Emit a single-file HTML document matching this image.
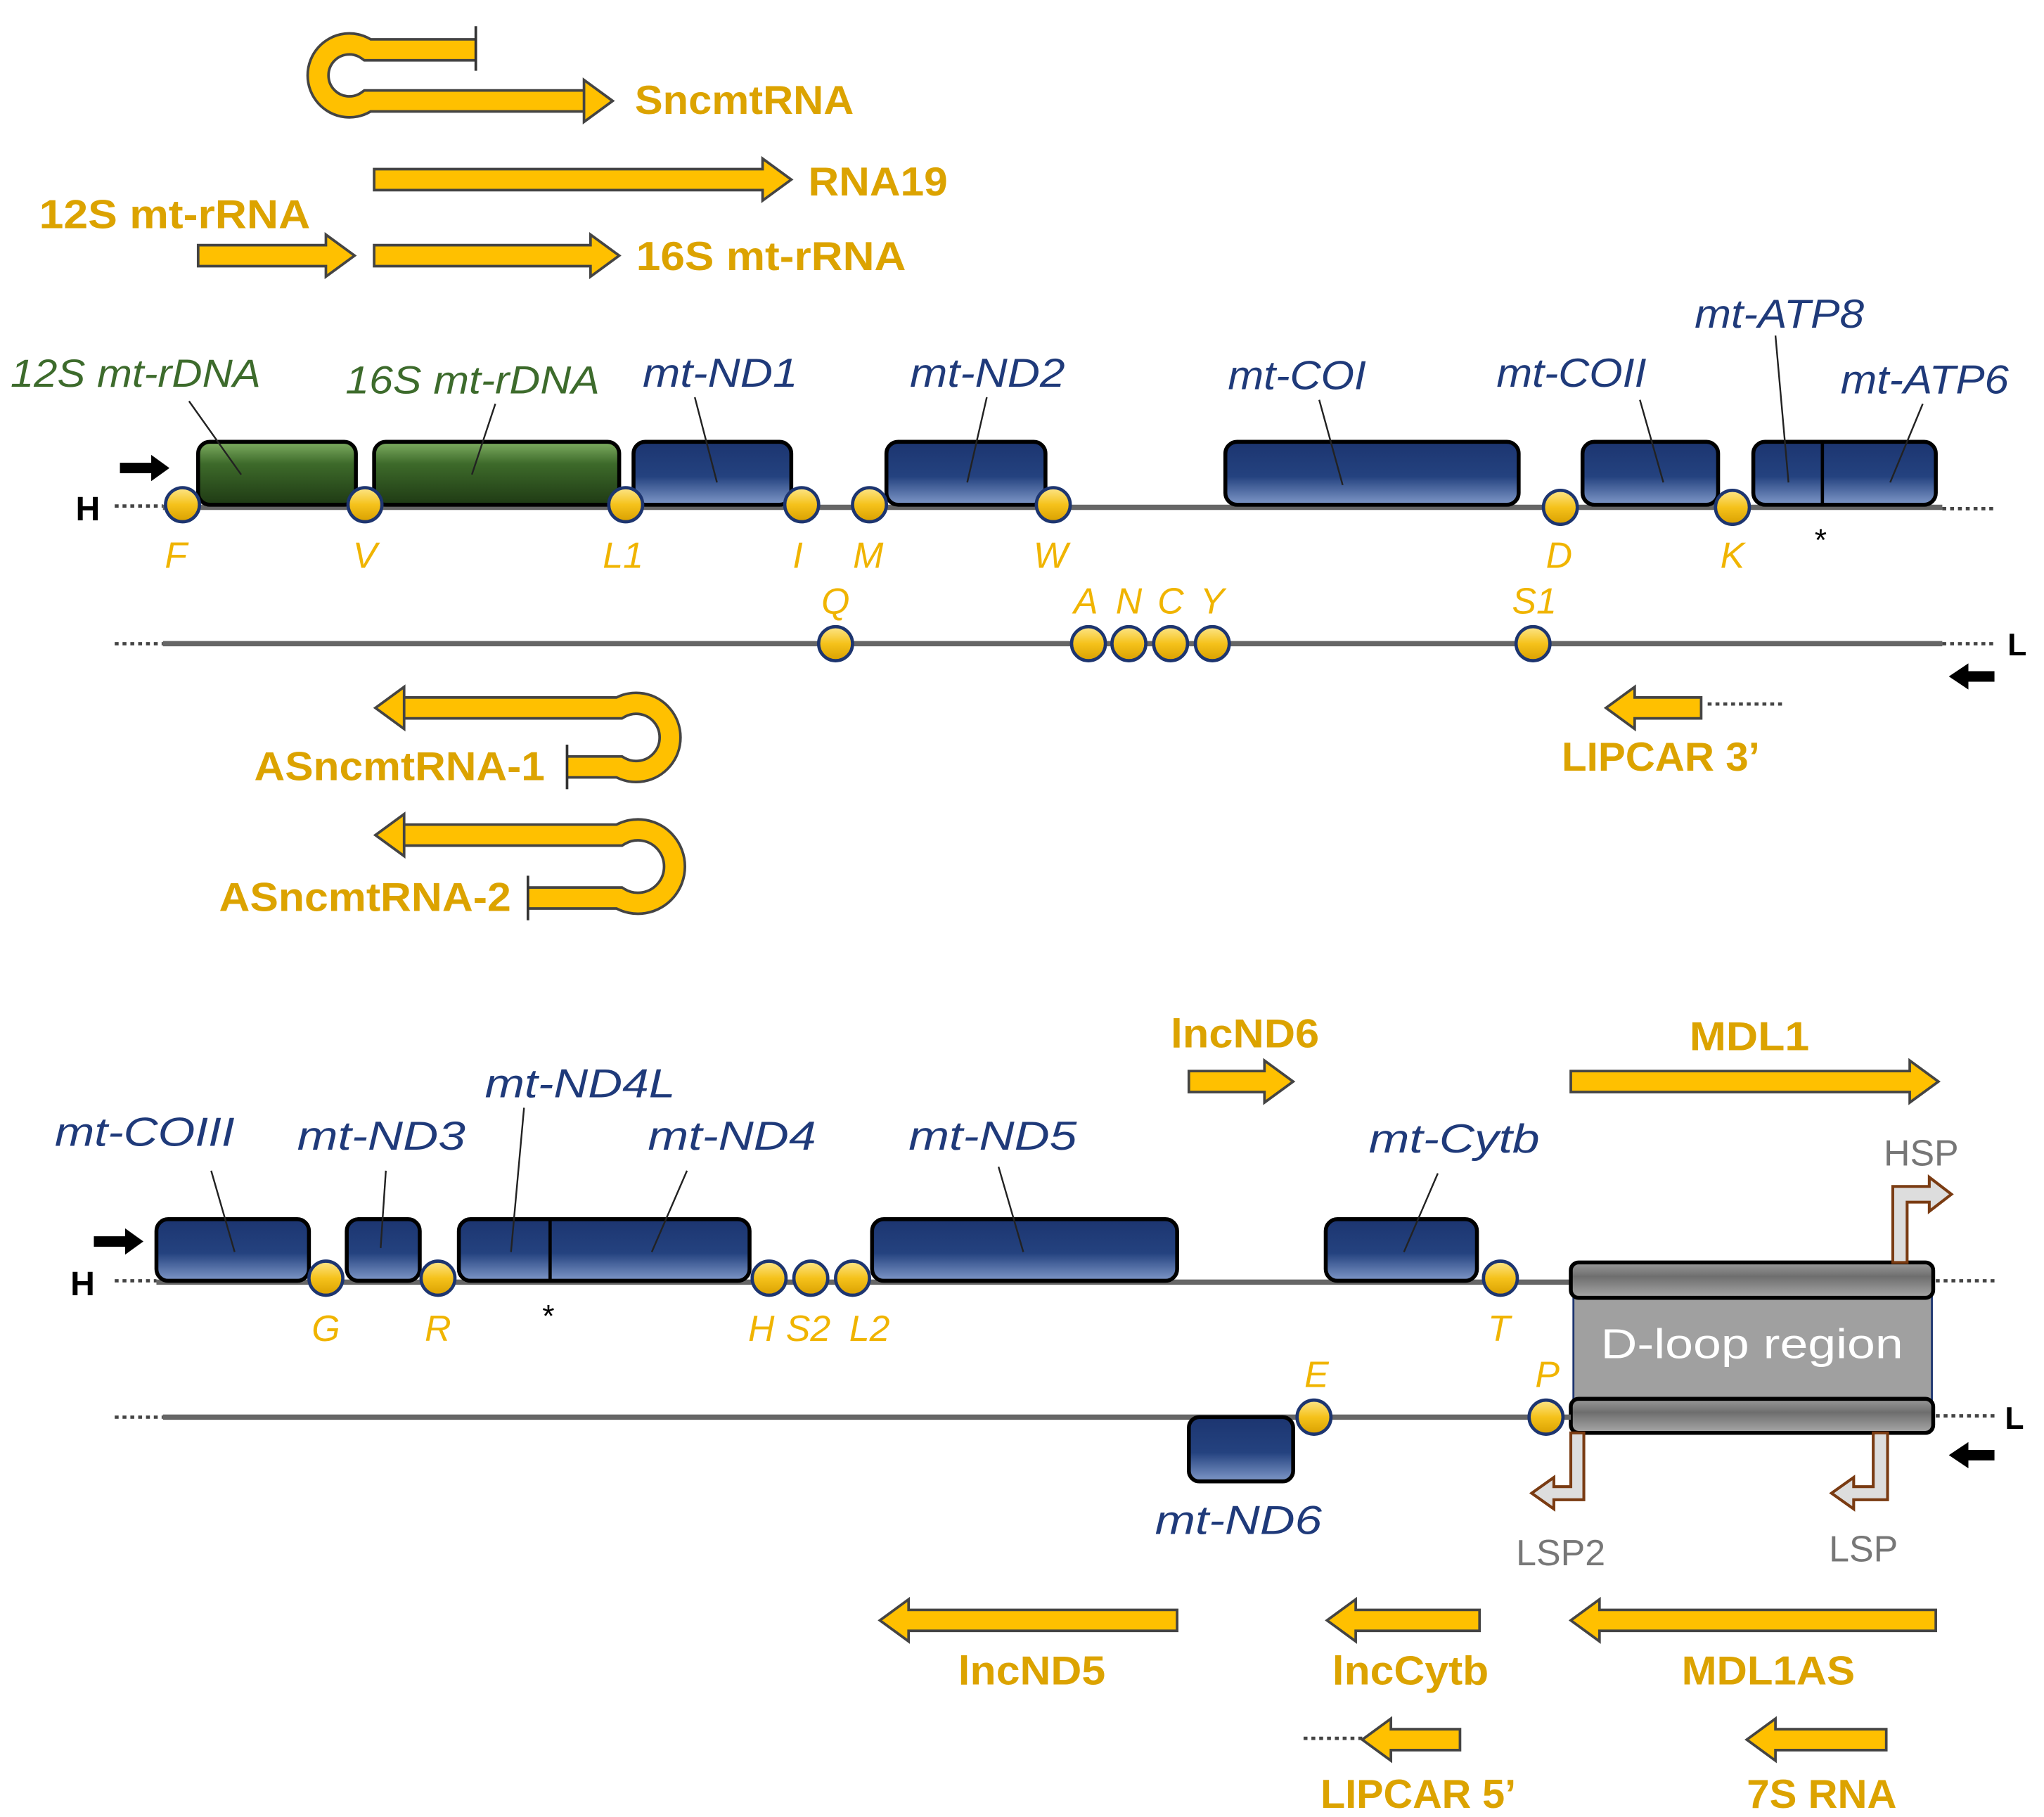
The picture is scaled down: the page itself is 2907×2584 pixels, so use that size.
<!DOCTYPE html>
<html><head><meta charset="utf-8">
<style>
html,body{margin:0;padding:0;background:#fff;}
svg{display:block;}
.y{font-family:"Liberation Sans",sans-serif;font-weight:bold;fill:#DCA300;font-size:31px;}
.g{font-family:"Liberation Sans",sans-serif;font-style:italic;fill:#1F3A7A;font-size:31px;}
.gg{font-family:"Liberation Sans",sans-serif;font-style:italic;fill:#3D6B2C;font-size:30px;}
.t{font-family:"Liberation Sans",sans-serif;font-style:italic;fill:#F0B400;font-size:28px;text-anchor:middle;}
.p{font-family:"Liberation Sans",sans-serif;fill:#777;font-size:28px;}
.ar{fill:#FFC000;stroke:#444;stroke-width:2;stroke-linejoin:miter;}
.bl{fill:url(#blue);stroke:#000;stroke-width:3;}
.gr{fill:url(#green);stroke:#000;stroke-width:3;}
.c{fill:url(#yel);stroke:#1D3570;stroke-width:2.5;}
.ln{stroke:#666;stroke-width:4;}
.dot{stroke:#444;stroke-width:2.5;stroke-dasharray:3 3;}
.lead{stroke:#222;stroke-width:1.3;}
.bent{fill:#ddd;stroke:#7A3B12;stroke-width:2.2;}
</style></head><body>
<svg width="2907" height="2584" viewBox="0 0 1568 1386" preserveAspectRatio="none" xmlns="http://www.w3.org/2000/svg">
<defs>
<linearGradient id="blue" x1="0" y1="0" x2="0" y2="1"><stop offset="0" stop-color="#1C3570"/><stop offset="0.55" stop-color="#24427F"/><stop offset="1" stop-color="#7F98C8"/></linearGradient>
<linearGradient id="green" x1="0" y1="0" x2="0" y2="1"><stop offset="0" stop-color="#7FAE62"/><stop offset="0.35" stop-color="#3D6A2A"/><stop offset="1" stop-color="#1F3A14"/></linearGradient>
<linearGradient id="yel" x1="0" y1="0" x2="0" y2="1"><stop offset="0" stop-color="#FDE68A"/><stop offset="0.5" stop-color="#F5C21B"/><stop offset="1" stop-color="#D9A000"/></linearGradient>
<linearGradient id="gray" x1="0" y1="0" x2="0" y2="1"><stop offset="0" stop-color="#9a9a9a"/><stop offset="0.4" stop-color="#6e6e6e"/><stop offset="1" stop-color="#a8a8a8"/></linearGradient>
</defs>

<!-- TOP TRANSCRIPTS -->
<path d="M365 38 H282 A24 24 0 1 0 282 77 H450" fill="none" stroke="#444" stroke-width="18"/>
<path d="M365 38 H282 A24 24 0 1 0 282 77 H450" fill="none" stroke="#FFC000" stroke-width="14"/>
<line x1="365" y1="20" x2="365" y2="54" stroke="#333" stroke-width="2"/>
<polygon class="ar" points="448,61 470,77 448,93"/>
<text class="y" x="487" y="87" textLength="168" lengthAdjust="spacingAndGlyphs">SncmtRNA</text>

<polygon class="ar" points="287,129 585,129 585,121 607,137 585,153 585,145 287,145"/>
<text class="y" x="620" y="149" textLength="107" lengthAdjust="spacingAndGlyphs">RNA19</text>
<text class="y" x="30" y="174" textLength="208" lengthAdjust="spacingAndGlyphs">12S mt-rRNA</text>
<polygon class="ar" points="152,187 250,187 250,179 272,195 250,211 250,203 152,203"/>
<polygon class="ar" points="287,187 453,187 453,179 475,195 453,211 453,203 287,203"/>
<text class="y" x="488" y="206" textLength="207" lengthAdjust="spacingAndGlyphs">16S mt-rRNA</text>

<!-- H strand top -->
<line class="dot" x1="88" y1="386" x2="125" y2="386"/>
<line class="ln" x1="125" y1="387" x2="1490" y2="387"/>
<line class="dot" x1="1490" y1="388" x2="1532" y2="388"/>
<text x="58" y="397" font-family="Liberation Sans" font-weight="bold" font-size="26">H</text>
<polygon points="92,353 116,353 116,347 130,357 116,367 116,361 92,361" fill="#000"/>

<rect class="gr" x="152" y="337" width="121" height="48" rx="9"/>
<rect class="gr" x="287" y="337" width="188" height="48" rx="9"/>
<rect class="bl" x="486" y="337" width="121" height="48" rx="9"/>
<rect class="bl" x="680" y="337" width="122" height="48" rx="9"/>
<rect class="bl" x="940" y="337" width="225" height="48" rx="9"/>
<rect class="bl" x="1214" y="337" width="104" height="48" rx="9"/>
<rect class="bl" x="1345" y="337" width="140" height="48" rx="9"/>
<line x1="1398" y1="337" x2="1398" y2="385" stroke="#000" stroke-width="2.5"/>

<line class="lead" x1="145" y1="306" x2="185" y2="362"/>
<line class="lead" x1="380" y1="308" x2="362" y2="362"/>
<line class="lead" x1="533" y1="303" x2="550" y2="368"/>
<line class="lead" x1="757" y1="303" x2="742" y2="368"/>
<line class="lead" x1="1012" y1="305" x2="1030" y2="370"/>
<line class="lead" x1="1258" y1="305" x2="1276" y2="368"/>
<line class="lead" x1="1362" y1="256" x2="1372" y2="368"/>
<line class="lead" x1="1475" y1="308" x2="1450" y2="368"/>

<text class="gg" x="8" y="295" textLength="192" lengthAdjust="spacingAndGlyphs">12S mt-rDNA</text>
<text class="gg" x="265" y="300" textLength="195" lengthAdjust="spacingAndGlyphs">16S mt-rDNA</text>
<text class="g" x="493" y="295" textLength="119" lengthAdjust="spacingAndGlyphs">mt-ND1</text>
<text class="g" x="698" y="295" textLength="119" lengthAdjust="spacingAndGlyphs">mt-ND2</text>
<text class="g" x="942" y="297" textLength="106" lengthAdjust="spacingAndGlyphs">mt-COI</text>
<text class="g" x="1148" y="295" textLength="115" lengthAdjust="spacingAndGlyphs">mt-COII</text>
<text class="g" x="1300" y="250" textLength="130" lengthAdjust="spacingAndGlyphs">mt-ATP8</text>
<text class="g" x="1412" y="300" textLength="129" lengthAdjust="spacingAndGlyphs">mt-ATP6</text>

<circle class="c" cx="140" cy="385" r="13"/>
<circle class="c" cx="280" cy="385" r="13"/>
<circle class="c" cx="480" cy="385" r="13"/>
<circle class="c" cx="615" cy="385" r="13"/>
<circle class="c" cx="667" cy="385" r="13"/>
<circle class="c" cx="808" cy="385" r="13"/>
<circle class="c" cx="1197" cy="387" r="13"/>
<circle class="c" cx="1329" cy="387" r="13"/>
<text class="t" x="135" y="433">F</text>
<text class="t" x="280" y="433">V</text>
<text class="t" x="478" y="433">L1</text>
<text class="t" x="612" y="433">I</text>
<text class="t" x="666" y="433">M</text>
<text class="t" x="806" y="433">W</text>
<text class="t" x="1196" y="433">D</text>
<text class="t" x="1329" y="433">K</text>
<text x="1392" y="420" font-family="Liberation Sans" font-size="24">*</text>

<!-- L strand top -->
<line class="dot" x1="88" y1="491" x2="125" y2="491"/>
<line class="ln" x1="125" y1="491" x2="1490" y2="491"/>
<line class="dot" x1="1490" y1="491" x2="1530" y2="491"/>
<text x="1540" y="500" font-family="Liberation Sans" font-weight="bold" font-size="24">L</text>
<polygon points="1530,512 1510,512 1510,506 1495,516 1510,526 1510,520 1530,520" fill="#000"/>
<circle class="c" cx="641" cy="491" r="13"/>
<circle class="c" cx="835" cy="491" r="13"/>
<circle class="c" cx="866" cy="491" r="13"/>
<circle class="c" cx="898" cy="491" r="13"/>
<circle class="c" cx="930" cy="491" r="13"/>
<circle class="c" cx="1176" cy="491" r="13"/>
<text class="t" x="641" y="468">Q</text>
<text class="t" x="833" y="468">A</text>
<text class="t" x="866" y="468">N</text>
<text class="t" x="898" y="468">C</text>
<text class="t" x="930" y="468">Y</text>
<text class="t" x="1177" y="468">S1</text>

<polygon class="ar" points="1305,532 1254,532 1254,524 1232,540 1254,556 1254,548 1305,548"/>
<line class="dot" x1="1310" y1="537" x2="1370" y2="537"/>
<text class="y" x="1198" y="588" textLength="152" lengthAdjust="spacingAndGlyphs">LIPCAR 3’</text>

<!-- AS hairpins -->
<path d="M308 540 H475 A26 26 0 1 1 475 585 H435" fill="none" stroke="#444" stroke-width="18"/>
<path d="M308 540 H475 A26 26 0 1 1 475 585 H435" fill="none" stroke="#FFC000" stroke-width="14"/>
<line x1="435" y1="568" x2="435" y2="602" stroke="#333" stroke-width="2"/>
<polygon class="ar" points="310,524 288,540 310,556"/>
<text class="y" x="195" y="595" textLength="223" lengthAdjust="spacingAndGlyphs">ASncmtRNA-1</text>

<path d="M308 637 H475 A28 28 0 1 1 475 685 H405" fill="none" stroke="#444" stroke-width="18"/>
<path d="M308 637 H475 A28 28 0 1 1 475 685 H405" fill="none" stroke="#FFC000" stroke-width="14"/>
<line x1="405" y1="668" x2="405" y2="702" stroke="#333" stroke-width="2"/>
<polygon class="ar" points="310,621 288,637 310,653"/>
<text class="y" x="168" y="695" textLength="224" lengthAdjust="spacingAndGlyphs">ASncmtRNA-2</text>

<!-- BOTTOM SECTION -->
<text class="y" x="898" y="799" textLength="114" lengthAdjust="spacingAndGlyphs">lncND6</text>
<polygon class="ar" points="912,817 970,817 970,809 992,825 970,841 970,833 912,833"/>
<text class="y" x="1296" y="801" textLength="92" lengthAdjust="spacingAndGlyphs">MDL1</text>
<polygon class="ar" points="1205,817 1465,817 1465,809 1487,825 1465,841 1465,833 1205,833"/>

<line class="dot" x1="88" y1="977" x2="120" y2="977"/>
<line class="ln" x1="120" y1="978" x2="1205" y2="978"/>
<line class="dot" x1="1485" y1="977" x2="1530" y2="977"/>
<text x="54" y="988" font-family="Liberation Sans" font-weight="bold" font-size="26">H</text>
<polygon points="72,943 96,943 96,937 110,947 96,957 96,951 72,951" fill="#000"/>

<rect class="bl" x="120" y="930" width="117" height="47" rx="9"/>
<rect class="bl" x="266" y="930" width="56" height="47" rx="9"/>
<rect class="bl" x="352" y="930" width="223" height="47" rx="9"/>
<line x1="422" y1="930" x2="422" y2="977" stroke="#000" stroke-width="2.5"/>
<rect class="bl" x="669" y="930" width="234" height="47" rx="9"/>
<rect class="bl" x="1017" y="930" width="116" height="47" rx="9"/>

<line class="lead" x1="162" y1="893" x2="180" y2="955"/>
<line class="lead" x1="296" y1="893" x2="292" y2="952"/>
<line class="lead" x1="402" y1="845" x2="392" y2="955"/>
<line class="lead" x1="527" y1="893" x2="500" y2="955"/>
<line class="lead" x1="766" y1="890" x2="785" y2="955"/>
<line class="lead" x1="1103" y1="895" x2="1077" y2="955"/>

<text class="g" x="42" y="874" textLength="138" lengthAdjust="spacingAndGlyphs">mt-COIII</text>
<text class="g" x="228" y="877" textLength="129" lengthAdjust="spacingAndGlyphs">mt-ND3</text>
<text class="g" x="372" y="837" textLength="146" lengthAdjust="spacingAndGlyphs">mt-ND4L</text>
<text class="g" x="497" y="877" textLength="129" lengthAdjust="spacingAndGlyphs">mt-ND4</text>
<text class="g" x="697" y="877" textLength="129" lengthAdjust="spacingAndGlyphs">mt-ND5</text>
<text class="g" x="1050" y="879" textLength="131" lengthAdjust="spacingAndGlyphs">mt-Cytb</text>

<circle class="c" cx="250" cy="975" r="13"/>
<circle class="c" cx="336" cy="975" r="13"/>
<circle class="c" cx="590" cy="975" r="13"/>
<circle class="c" cx="622" cy="975" r="13"/>
<circle class="c" cx="654" cy="975" r="13"/>
<circle class="c" cx="1151" cy="975" r="13"/>
<text class="t" x="250" y="1023">G</text>
<text class="t" x="336" y="1023">R</text>
<text class="t" x="584" y="1023">H</text>
<text class="t" x="620" y="1023">S2</text>
<text class="t" x="667" y="1023">L2</text>
<text class="t" x="1150" y="1023">T</text>
<text x="416" y="1012" font-family="Liberation Sans" font-size="24">*</text>

<!-- D-loop -->
<rect x="1207" y="985" width="275" height="86" fill="#A0A0A0" stroke="#1D3570" stroke-width="1.5"/>
<rect x="1205" y="963" width="278" height="27" rx="6" fill="url(#gray)" stroke="#000" stroke-width="3"/>
<rect x="1205" y="1067" width="278" height="26" rx="6" fill="url(#gray)" stroke="#000" stroke-width="3"/>
<text x="1344" y="1036" text-anchor="middle" font-family="Liberation Sans" font-size="32" fill="#fff" textLength="232" lengthAdjust="spacingAndGlyphs">D-loop  region</text>

<!-- L strand bottom -->
<line class="dot" x1="88" y1="1081" x2="125" y2="1081"/>
<line class="ln" x1="125" y1="1081" x2="1205" y2="1081"/>
<line class="dot" x1="1485" y1="1080" x2="1530" y2="1080"/>
<text x="1538" y="1090" font-family="Liberation Sans" font-weight="bold" font-size="24">L</text>
<polygon points="1530,1106 1510,1106 1510,1100 1495,1110 1510,1120 1510,1114 1530,1114" fill="#000"/>
<rect class="bl" x="912" y="1081" width="80" height="49" rx="8"/>
<text class="g" x="886" y="1170" textLength="128" lengthAdjust="spacingAndGlyphs">mt-ND6</text>
<circle class="c" cx="1008" cy="1081" r="13"/>
<circle class="c" cx="1186" cy="1081" r="13"/>
<text class="t" x="1010" y="1058">E</text>
<text class="t" x="1187" y="1058">P</text>

<!-- promoters -->
<polygon class="bent" points="1452,963 1452,905 1480,905 1480,898 1497,911 1480,924 1480,917 1463,917 1463,963"/>
<polygon class="bent" points="1448,1093 1448,1144 1422,1144 1422,1151 1405,1139 1422,1127 1422,1134 1437,1134 1437,1093"/>
<polygon class="bent" points="1215,1093 1215,1144 1192,1144 1192,1151 1175,1139 1192,1127 1192,1134 1205,1134 1205,1093"/>
<text class="p" x="1445" y="889">HSP</text>
<text class="p" x="1163" y="1194">LSP2</text>
<text class="p" x="1403" y="1191">LSP</text>

<!-- bottom arrows -->
<polygon class="ar" points="903,1228 697,1228 697,1220 675,1236 697,1252 697,1244 903,1244"/>
<text class="y" x="735" y="1285" textLength="113" lengthAdjust="spacingAndGlyphs">lncND5</text>
<polygon class="ar" points="1135,1228 1040,1228 1040,1220 1018,1236 1040,1252 1040,1244 1135,1244"/>
<text class="y" x="1022" y="1285" textLength="120" lengthAdjust="spacingAndGlyphs">lncCytb</text>
<polygon class="ar" points="1485,1228 1227,1228 1227,1220 1205,1236 1227,1252 1227,1244 1485,1244"/>
<text class="y" x="1290" y="1285" textLength="133" lengthAdjust="spacingAndGlyphs">MDL1AS</text>
<polygon class="ar" points="1120,1319 1067,1319 1067,1311 1045,1327 1067,1343 1067,1335 1120,1335"/>
<line class="dot" x1="1000" y1="1326" x2="1045" y2="1326"/>
<text class="y" x="1013" y="1379" textLength="150" lengthAdjust="spacingAndGlyphs">LIPCAR 5’</text>
<polygon class="ar" points="1447,1319 1362,1319 1362,1311 1340,1327 1362,1343 1362,1335 1447,1335"/>
<text class="y" x="1340" y="1379" textLength="115" lengthAdjust="spacingAndGlyphs">7S RNA</text>
</svg>
</body></html>
